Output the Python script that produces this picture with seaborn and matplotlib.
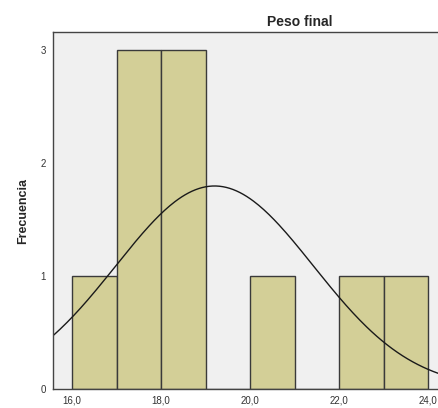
import numpy as np
import pandas as pd
import matplotlib
matplotlib.use("Agg")
import matplotlib.pyplot as plt
import seaborn as sns

bin_edges = [16, 17, 18, 19, 20, 21, 22, 23, 24]
counts = [1, 3, 3, 0, 1, 0, 1, 1]
mean_peso = 19.2
sd_peso = 2.22
n_total = sum(counts)
xticks = [16, 18, 20, 22, 24]
yticks = [0, 1, 2, 3]

sns.set_style("white")
plt.rcParams['font.family'] = ['Liberation Sans', 'DejaVu Sans']

df = pd.DataFrame({
    'centro': [(a + b) / 2 for a, b in zip(bin_edges[:-1], bin_edges[1:])],
    'n': counts,
})

fig = plt.figure(figsize=(4.39, 4.08), dpi=100)
ax = fig.add_axes([53 / 439, 19 / 408, 494 / 439, 357 / 408])
ax.set_facecolor('#f0f0f0')

sns.histplot(data=df, x='centro', weights='n', bins=bin_edges, ax=ax,
             color='#d3cf97', alpha=1, edgecolor='#3a3a3a', linewidth=1)

# curva normal
xs = np.linspace(15.5, 27, 300)
ys = n_total * 1.0 / (sd_peso * np.sqrt(2 * np.pi)) * np.exp(-0.5 * ((xs - mean_peso) / sd_peso) ** 2)
sns.lineplot(x=xs, y=ys, ax=ax, color='#1a1a1a', linewidth=1)

ax.set_xlim(15.57, 26.67)
ax.set_ylim(0, 3.16)
ax.set_xticks(xticks)
ax.set_xticklabels([f"{t:.1f}".replace('.', ',') for t in xticks])
ax.set_yticks(yticks)
ax.tick_params(direction='out', length=3, width=1, labelsize=7, colors='#333333', pad=2)
for s in ['left', 'bottom', 'top']:
    ax.spines[s].set_color('#444444')
    ax.spines[s].set_linewidth(1)
ax.spines['right'].set_visible(False)

ax.set_xlabel('')
ax.set_ylabel('Frecuencia', fontsize=9, fontweight='bold', labelpad=8)
ax.set_title('Peso final', fontsize=10, fontweight='bold', pad=4)

fig.savefig('out.png', dpi=100)
